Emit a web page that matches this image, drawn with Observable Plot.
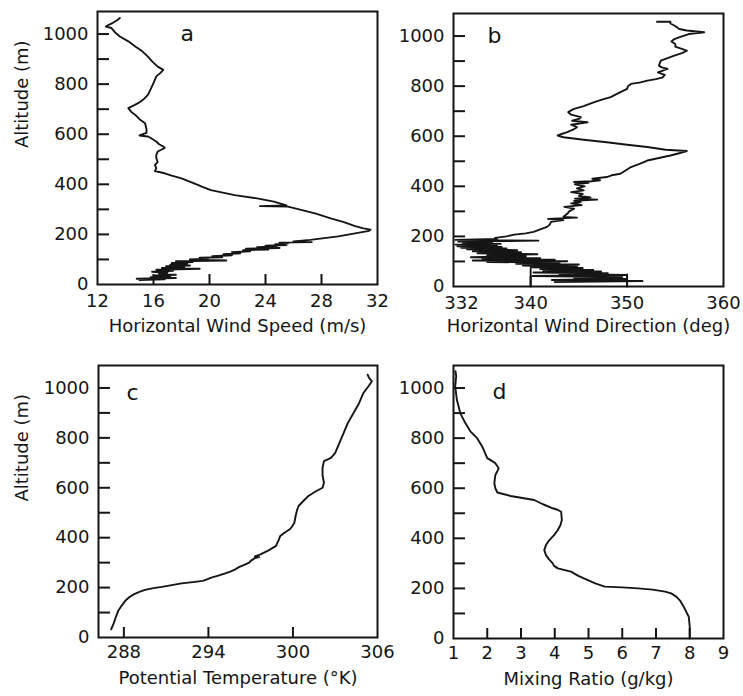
<!DOCTYPE html>
<html><head><meta charset="utf-8">
<script src="https://cdn.jsdelivr.net/npm/d3@7"></script>
<script src="https://cdn.jsdelivr.net/npm/@observablehq/plot@0.6"></script>
<style>
html,body{margin:0;padding:0;background:#fff;}
#chart{position:relative;width:743px;height:696px;background:#fff;overflow:hidden;}
#chart svg{position:absolute;background:transparent !important;overflow:visible;}
g[aria-label="axis title"] text{letter-spacing:1px;}
</style></head><body><div id="chart"></div>
<script>
// ---------- data (altitude m, value) ----------
const altLabelTicks = [0, 200, 400, 600, 800, 1000];
const altTickMarks = [100, 200, 300, 400, 500, 600, 700, 800, 900, 1000];
const altDomain = [0, 1090];

const speedTicks = [12, 16, 20, 24, 28, 32];
const speedTickMarks = [16, 20, 24, 28];
const speedProfile = [[18,15.0],[21,16.8],[23,14.8],[26,17.6],[29,15.8],[32,17.2],[36,16.0],[39,17.6],[43,16.4],[47,17.0],[51,15.9],[55,17.4],[59,16.2],[63,19.3],[66,16.6],[70,18.2],[73,16.9],[76,18.6],[79,17.2],[83,18.4],[86,17.3],[90,18.8],[93,17.6],[96,21.2],[100,18.6],[104,19.9],[107,19.3],[109,20.9],[113,20.2],[117,21.6],[121,21.0],[125,22.2],[129,21.6],[133,22.9],[137,22.4],[140,24.2],[143,22.6],[146,25.0],[149,23.4],[152,24.8],[155,24.0],[158,25.5],[161,24.7],[164,25.6],[167,25.0],[169,27.3],[172,26.0],[178,27.2],[185,28.2],[192,29.2],[200,30.0],[208,30.8],[214,31.4],[219,31.5],[224,31.0],[233,30.4],[249,29.6],[265,28.6],[283,27.6],[300,26.4],[311,25.6],[313,23.6],[316,25.5],[331,24.6],[344,23.4],[357,21.8],[377,20.1],[390,19.5],[404,18.9],[415,18.4],[424,18.0],[435,17.3],[444,16.8],[453,16.1],[465,16.2],[477,16.1],[490,16.3],[504,16.2],[518,16.2],[531,16.3],[545,16.8],[551,16.7],[560,16.4],[571,16.2],[585,15.8],[591,15.6],[595,15.0],[605,15.5],[620,15.5],[644,15.4],[660,15.0],[677,14.7],[690,14.4],[704,14.2],[715,14.6],[724,14.9],[740,15.3],[757,15.6],[780,15.8],[804,16.0],[831,16.2],[845,16.5],[857,16.7],[870,16.3],[891,15.9],[910,15.6],[931,15.2],[950,14.7],[971,14.2],[990,13.6],[1004,13.3],[1024,13.0],[1030,12.6],[1037,12.8],[1045,13.1],[1055,13.4],[1064,13.6]];

const dirFirstTick = [332];
const dirTicks = [340, 350, 360];
const dirTickMarks = [340, 350];
const dirProfile = [[18,342.5],[22,351.6],[26,342.2],[30,350.0],[34,344.5],[38,349.5],[42,340.2],[46,350.0],[50,343.0],[53,348.0],[56,340.3],[60,347.3],[63,341.3],[66,346.5],[70,341.0],[74,345.4],[77,340.0],[80,344.8],[84,339.2],[88,345.0],[91,338.5],[95,343.0],[98,335.5],[101,343.8],[104,334.0],[107,342.5],[110,335.0],[113,341.0],[117,333.8],[121,339.5],[125,335.5],[129,340.7],[133,334.5],[137,339.0],[141,334.0],[145,338.6],[149,333.4],[152,337.5],[155,332.8],[158,337.0],[161,332.4],[164,336.5],[167,332.2],[170,336.9],[173,333.0],[176,336.0],[179,332.5],[183,340.8],[186,332.2],[190,336.5],[194,336.3],[200,337.5],[207,338.3],[212,339.5],[218,340.3],[228,341.0],[238,341.7],[248,342.0],[258,342.1],[265,343.4],[270,341.8],[275,344.8],[278,343.4],[290,343.8],[300,344.0],[311,344.5],[318,343.5],[325,345.3],[332,344.2],[337,345.2],[342,344.5],[347,346.9],[351,344.6],[356,346.2],[362,345.0],[370,345.4],[377,344.2],[384,345.5],[392,344.8],[400,345.6],[408,344.6],[414,346.0],[417,344.5],[420,346.3],[424,347.2],[430,346.4],[437,347.9],[444,348.4],[450,349.3],[462,349.8],[477,350.4],[490,351.3],[503,352.1],[513,353.3],[523,354.5],[532,355.4],[541,356.2],[546,354.0],[557,352.1],[566,350.0],[576,347.9],[586,345.5],[596,343.4],[603,342.8],[610,343.3],[616,343.8],[626,344.4],[636,344.8],[646,344.2],[656,345.9],[662,344.3],[669,345.0],[676,345.2],[686,344.2],[696,343.9],[703,344.2],[709,344.5],[720,345.5],[736,346.6],[746,347.4],[756,348.3],[770,349.0],[789,350.0],[800,350.1],[809,350.4],[815,351.4],[822,352.1],[828,353.0],[835,353.7],[845,353.9],[855,353.2],[869,354.2],[875,353.6],[882,353.3],[892,353.4],[902,353.5],[912,354.2],[922,354.9],[932,355.7],[942,356.2],[950,355.6],[958,355.0],[968,355.0],[978,354.6],[988,354.9],[998,355.6],[1008,356.4],[1015,358.0],[1022,356.2],[1028,355.4],[1040,355.0],[1050,354.5],[1057,354.5],[1057,353.1]];
const dirStub1 = [[0,340],[70,340]];
const dirStub2 = [[0,350],[48,350]];

const thetaTicks = [288, 294, 300, 306];
const thetaTickMarks = [288, 294, 300];
const thetaProfile = [[33,287.1],[60,287.3],[85,287.45],[107,287.6],[128,287.85],[147,288.1],[162,288.4],[173,288.7],[183,289.1],[191,289.5],[198,290.1],[203,290.7],[210,291.4],[217,292.1],[222,292.9],[227,293.6],[233,293.9],[240,294.2],[248,294.7],[257,295.2],[265,295.6],[273,295.9],[283,296.2],[290,296.5],[300,296.9],[307,297.0],[318,297.3],[322,297.6],[325,297.3],[333,297.7],[350,298.3],[367,298.8],[380,298.9],[392,299.0],[407,299.1],[420,299.4],[435,299.8],[447,299.96],[460,300.1],[490,300.2],[512,300.3],[527,300.4],[545,300.7],[567,301.1],[585,301.6],[600,302.1],[620,302.2],[650,302.1],[680,302.1],[707,302.2],[720,302.7],[740,303.0],[780,303.3],[820,303.6],[860,303.9],[900,304.3],[940,304.7],[980,305.0],[1010,305.4],[1027,305.6],[1040,305.4],[1053,305.3]];

const mixTicks = [1, 2, 3, 4, 5, 6, 7, 8, 9];
const mixTickMarks = [2, 3, 4, 5, 6, 7, 8];
const mixProfile = [[0,8.0],[47,8.0],[87,7.97],[127,7.82],[150,7.72],[167,7.6],[180,7.45],[187,7.27],[195,6.9],[200,6.47],[204,6.0],[207,5.48],[220,5.2],[233,4.98],[250,4.7],[267,4.48],[280,4.09],[290,3.98],[300,3.94],[318,3.82],[333,3.74],[353,3.69],[373,3.74],[393,3.84],[413,3.98],[433,4.09],[453,4.17],[473,4.21],[506,4.19],[514,4.08],[520,3.94],[536,3.65],[553,3.39],[562,3.0],[569,2.69],[583,2.30],[600,2.24],[620,2.21],[653,2.24],[668,2.3],[680,2.34],[700,2.24],[720,2.0],[745,1.92],[767,1.85],[800,1.70],[827,1.50],[860,1.35],[900,1.20],[953,1.10],[1007,1.05],[1047,1.08],[1067,1.06]];

// ---------- drawing ----------
const ink = "#151515";
const FONT = "'DejaVu Sans', sans-serif";
const plain = d => String(d);

function panel(cfg) {
  const [bl, bt, bw, bh] = cfg.box;        // svg box on page
  const [fx0, fy0, fx1, fy1] = cfg.frame;  // frame on page
  const lines = cfg.series.map(s => Plot.line(s, {x: d => d[1], y: d => d[0], stroke: ink, strokeWidth: 1.9, strokeLinejoin: "round"}));
  const svg = Plot.plot({
    width: bw, height: bh,
    marginLeft: fx0 - bl, marginTop: fy0 - bt, marginRight: bl + bw - fx1, marginBottom: bt + bh - fy1,
    x: {domain: cfg.xDomain},
    y: {domain: altDomain},
    style: {fontFamily: FONT, fontSize: "18px", color: ink, background: "transparent", overflow: "visible"},
    marks: [
      Plot.axisY(altLabelTicks, {anchor: "left", tickSize: 0, tickPadding: 9, label: null, tickFormat: plain}),
      Plot.axisY(altTickMarks, {anchor: "left", tickSize: -12, strokeWidth: 2, fill: "none", label: null}),
      cfg.xFirstTick ? Plot.axisX(cfg.xFirstTick, {anchor: "bottom", tickSize: 0, tickPadding: cfg.xPad, dx: 8, label: null, tickFormat: plain}) : null,
      Plot.axisX(cfg.xTicks, {anchor: "bottom", tickSize: 0, tickPadding: cfg.xPad, label: null, tickFormat: plain}),
      Plot.axisX(cfg.xTickMarks, {anchor: "bottom", tickSize: -10, strokeWidth: 2, fill: "none", label: null}),
      ...lines,
      Plot.frame({stroke: ink, strokeWidth: 2}),
      Plot.text([cfg.xTitle], {text: d => d, frameAnchor: "bottom", dy: cfg.titleDy, lineAnchor: "middle", ariaLabel: "axis title"}),
      cfg.yTitle ? Plot.text([cfg.yTitle], {text: d => d, frameAnchor: "left", dx: -(fx0 - 22), rotate: -90, lineAnchor: "middle", ariaLabel: "axis title"}) : null,
      Plot.text([cfg.letter], {text: d => d, frameAnchor: "top-left", dx: cfg.letterPos[0], dy: cfg.letterPos[1], fontSize: 22, lineAnchor: "middle"})
    ]
  });
  svg.style.left = bl + "px";
  svg.style.top = bt + "px";
  document.getElementById("chart").appendChild(svg);
}

panel({box: [0, 0, 390, 345], frame: [97, 11, 377, 284], xDomain: [12, 32], xTicks: speedTicks, xTickMarks: speedTickMarks, xPad: 10, titleDy: 42,
  series: [speedProfile], xTitle: "Horizontal Wind Speed (m/s)", yTitle: "Altitude (m)", letter: "a", letterPos: [83, 22]});
panel({box: [380, 0, 363, 345], frame: [453, 13, 723, 286], xDomain: [332, 360], xFirstTick: dirFirstTick, xTicks: dirTicks, xTickMarks: dirTickMarks, xPad: 10, titleDy: 40,
  series: [dirProfile, dirStub1, dirStub2], xTitle: "Horizontal Wind Direction (deg)", yTitle: null, letter: "b", letterPos: [34, 22]});
panel({box: [0, 345, 390, 351], frame: [98, 365, 377, 637], xDomain: [286.2, 306], xTicks: thetaTicks, xTickMarks: thetaTickMarks, xPad: 8, titleDy: 41,
  series: [thetaProfile], xTitle: "Potential Temperature (°K)", yTitle: "Altitude (m)", letter: "c", letterPos: [28, 27]});
panel({box: [380, 345, 363, 351], frame: [453, 365, 723, 638], xDomain: [1, 9], xTicks: mixTicks, xTickMarks: mixTickMarks, xPad: 8, titleDy: 41,
  series: [mixProfile], xTitle: "Mixing Ratio (g/kg)", yTitle: null, letter: "d", letterPos: [39, 26]});
</script></body></html>
